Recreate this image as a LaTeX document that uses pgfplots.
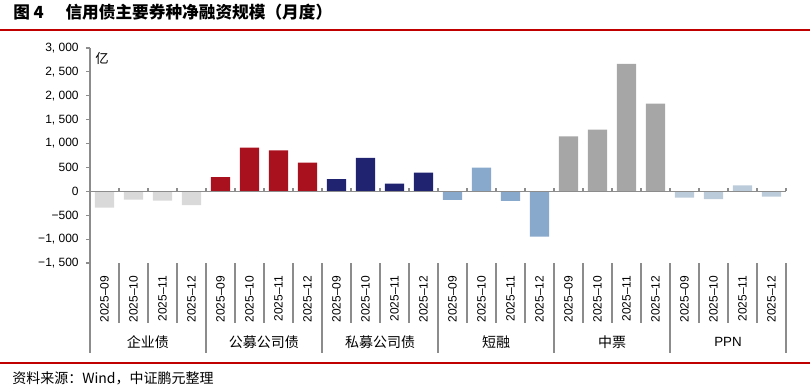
\documentclass[border=0pt]{standalone}
\usepackage{pgfplots}
\pgfplotsset{compat=1.18}
\usepackage{fontspec}
\setmainfont{Liberation Sans}
\newfontfamily\cjk{Noto Sans CJK SC}
\definecolor{cQY}{HTML}{D9D9D9}
\definecolor{cGM}{HTML}{AA111E}
\definecolor{cSM}{HTML}{1F2370}
\definecolor{cDR}{HTML}{88A9CB}
\definecolor{cZP}{HTML}{A6A6A6}
\definecolor{cPPN}{HTML}{BCCBDA}
\definecolor{cRed}{HTML}{C00000}
\definecolor{cAx}{HTML}{8C8C8C}
\begin{document}
\begin{tikzpicture}
\path[use as bounding box] (-67.5pt,-95.25pt) rectangle (540pt,197.25pt);
\begin{axis}[
  at={(0,0)}, anchor=south west, scale only axis,
  width=522pt, height=161.25pt,
  xmin=0, xmax=24, ymin=-1500, ymax=3000,
  clip=false,
  axis y line*=left, axis x line*=bottom,
  x axis line style={draw=none},
  y axis line style={draw=cAx, line width=0.9pt},
  ytick={-1500,-1000,...,3000},
  yticklabels={{−1, 500},{−1, 000},{−500},{0},{500},{1, 000},{1, 500},{2, 000},{2, 500},{3, 000}},
  yticklabel style={font=\fontsize{9}{10}\selectfont, xshift=-2pt},
  ytick style={draw=cAx, line width=0.8pt},
  tick align=outside, major tick length=3pt,
  xtick={0.5,1.5,...,23.5},
  xticklabels={2025–09,2025–10,2025–11,2025–12,2025–09,2025–10,2025–11,2025–12,2025–09,2025–10,2025–11,2025–12,2025–09,2025–10,2025–11,2025–12,2025–09,2025–10,2025–11,2025–12,2025–09,2025–10,2025–11,2025–12},
  xticklabel style={yshift=-3pt, rotate=90, anchor=east, font=\fontsize{9}{10}\selectfont},
  xtick style={draw=none},
  ybar, bar width=0.67,
]
\addplot[fill=cQY, draw=none, bar shift=0pt] coordinates {(0.5,-343) (1.5,-175) (2.5,-196) (3.5,-287)};
\addplot[fill=cGM, draw=none, bar shift=0pt] coordinates {(4.5,295) (5.5,915) (6.5,855) (7.5,600)};
\addplot[fill=cSM, draw=none, bar shift=0pt] coordinates {(8.5,258) (9.5,700) (10.5,160) (11.5,390)};
\addplot[fill=cDR, draw=none, bar shift=0pt] coordinates {(12.5,-180) (13.5,495) (14.5,-200) (15.5,-950)};
\addplot[fill=cZP, draw=none, bar shift=0pt] coordinates {(16.5,1150) (17.5,1290) (18.5,2670) (19.5,1835)};
\addplot[fill=cPPN, draw=none, bar shift=0pt] coordinates {(20.5,-130) (21.5,-165) (22.5,125) (23.5,-110)};
\draw[cAx, line width=1.2pt] (axis cs:0,0) -- (axis cs:24,0);
\pgfplotsinvokeforeach{1,...,24}{\draw[cAx, line width=0.8pt] (axis cs:#1,0) -- ([yshift=2.5pt]axis cs:#1,0);}
\pgfplotsinvokeforeach{1,2,3,5,6,7,9,10,11,13,14,15,17,18,19,21,22,23}{\draw[cAx, line width=0.8pt] (axis cs:#1,-1500) -- ([yshift=-45pt]axis cs:#1,-1500);}
\pgfplotsinvokeforeach{0,4,8,12,16,20,24}{\draw[cAx, line width=0.9pt] (axis cs:#1,-1500) -- ([yshift=-67.5pt]axis cs:#1,-1500);}
\node[font=\cjk\fontsize{10.5}{12}\selectfont, yshift=-59.25pt] at (axis cs:2,-1500) {企业债};
\node[font=\cjk\fontsize{10.5}{12}\selectfont, yshift=-59.25pt] at (axis cs:6,-1500) {公募公司债};
\node[font=\cjk\fontsize{10.5}{12}\selectfont, yshift=-59.25pt] at (axis cs:10,-1500) {私募公司债};
\node[font=\cjk\fontsize{10.5}{12}\selectfont, yshift=-59.25pt] at (axis cs:14,-1500) {短融};
\node[font=\cjk\fontsize{10.5}{12}\selectfont, yshift=-59.25pt] at (axis cs:18,-1500) {中票};
\node[font=\fontsize{10}{12}\selectfont, yshift=-59.25pt] at (axis cs:22,-1500) {PPN};
\node[font=\cjk\fontsize{10}{12}\selectfont, xshift=9pt, yshift=-7.5pt] at (axis cs:0,3000) {亿};
\end{axis}
\draw[cRed, line width=0.8pt] (-67.5pt,174.75pt) -- (540pt,174.75pt);
\draw[cRed, line width=0.8pt] (-67.5pt,-75pt) -- (540pt,-75pt);
\node[anchor=west, inner sep=0pt, font=\cjk\bfseries\fontsize{12.5}{14}\selectfont] at (-57.75pt,188.25pt) {图 \textbf{4}\hspace{1.3em}信用债主要券种净融资规模（月度）};
\node[anchor=west, inner sep=0pt, font=\cjk\fontsize{10.5}{12}\selectfont] at (-58.5pt,-86.25pt) {资料来源：Wind，中证鹏元整理};
\end{tikzpicture}
\end{document}
